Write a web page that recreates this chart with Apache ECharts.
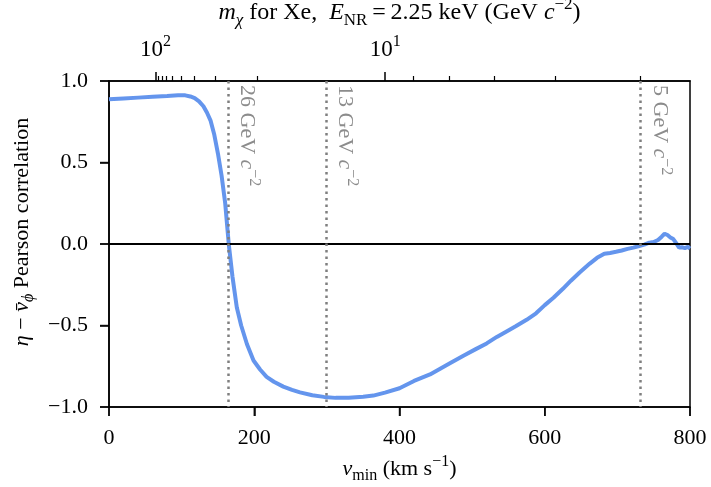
<!DOCTYPE html>
<html><head><meta charset="utf-8">
<script src="https://cdn.jsdelivr.net/npm/echarts@6/dist/echarts.min.js"></script>
<style>html,body{margin:0;padding:0;background:#fff}#c{width:711px;height:487px}</style>
</head><body><div id="c"></div>
<script>
// ---- data ----
const vmin = [0, 20, 40, 60, 80, 95, 105, 112, 118, 124, 130, 135, 140, 145, 150, 155, 160, 165, 170, 176, 182, 190, 199, 208, 217, 227, 240, 252, 263, 280, 296, 312, 330, 350, 364, 380, 400, 420, 442, 456, 470, 488, 505, 520, 534, 548, 560, 575, 588, 600, 612, 625, 636, 648, 662, 672, 682, 690, 698, 706, 714, 722, 730, 737, 744, 750, 756, 761, 765, 769, 773, 777, 781, 785, 789, 793, 797, 800];
const corr = [0.888, 0.893, 0.898, 0.903, 0.908, 0.913, 0.912, 0.905, 0.895, 0.875, 0.845, 0.805, 0.755, 0.67, 0.555, 0.42, 0.25, -0.005, -0.2, -0.39, -0.50, -0.615, -0.715, -0.77, -0.815, -0.845, -0.875, -0.895, -0.91, -0.928, -0.938, -0.944, -0.943, -0.937, -0.93, -0.912, -0.885, -0.84, -0.8, -0.765, -0.73, -0.685, -0.645, -0.61, -0.57, -0.535, -0.505, -0.465, -0.425, -0.375, -0.33, -0.275, -0.225, -0.175, -0.12, -0.085, -0.06, -0.055, -0.048, -0.04, -0.03, -0.022, -0.012, -0.004, 0.008, 0.012, 0.025, 0.045, 0.063, 0.055, 0.04, 0.03, 0.005, -0.022, -0.02, -0.025, -0.018, -0.028];
const xTicks = [0, 200, 400, 600, 800];
const yTicks = [-1.0, -0.5, 0.0, 0.5, 1.0];
const topMajorMass = [100, 10];
const topMajorLabels = ['2', '1'];          // exponents of 10
const topMinorMass = [90, 80, 70, 60, 50, 40, 30, 20, 9, 8, 7, 6, 5];
const markerMass = [26, 13, 5];

// ---- axis transform: WIMP mass (Xe, E_NR = 2.25 keV) -> v_min ----
const M_N = 121.7, K = 28.87;
const massToV = m => K * (1 + M_N / m);

const FONT = '"Liberation Serif", "DejaVu Serif", serif';
function rich(color, FS, SS) {
  FS = FS || 22; SS = SS || 16;
  const lh = Math.round(FS * 1.36), sl = Math.round(SS * 0.95);
  return {
    n: {fontFamily: FONT, fontSize: FS, color: color, lineHeight: lh},
    i: {fontFamily: FONT, fontSize: FS, color: color, fontStyle: 'italic', lineHeight: lh},
    sub: {fontFamily: FONT, fontSize: SS, color: color, verticalAlign: 'bottom', lineHeight: sl},
    subi: {fontFamily: FONT, fontSize: SS, color: color, fontStyle: 'italic', verticalAlign: 'bottom', lineHeight: sl},
    sup: {fontFamily: FONT, fontSize: SS, color: color, verticalAlign: 'top', lineHeight: sl}
  };
}
const fmtY = v => '{n|' + (v < 0 ? '\u2212' : '') + Math.abs(v).toFixed(1) + '}';

const chart = echarts.init(document.getElementById('c'), null, {renderer: 'canvas'});
const majorV = topMajorMass.map(massToV);
const minorV = topMinorMass.map(massToV);
const LINE = {color: '#000', width: 1.5};
const TL = 9;

chart.setOption({
  animation: false,
  backgroundColor: '#fff',
  grid: {left: 109, right: 21, top: 81, bottom: 80, outerBoundsMode: 'none', containLabel: false,
         show: true, borderColor: '#000', borderWidth: 1.5, backgroundColor: 'transparent'},
  xAxis: [
    {
      type: 'value', min: 0, max: 800, position: 'bottom',
      axisLine: {show: true, onZero: false, lineStyle: LINE},
      axisTick: {show: true, length: TL, customValues: xTicks, lineStyle: LINE},
      axisLabel: {margin: 16, customValues: xTicks, formatter: v => '{n|' + v + '}', rich: rich('#000')},
      splitLine: {show: false},
      name: '{i|v}{sub|min}{n| (km s}{sup|\u22121}{n|)}', nameLocation: 'middle', nameGap: 46,
      nameTextStyle: {rich: rich('#000')}
    },
    {
      type: 'value', min: 0, max: 800, position: 'top',
      axisLine: {show: true, onZero: false, lineStyle: LINE},
      axisTick: {show: true, length: TL, customValues: majorV, lineStyle: LINE},
      axisLabel: {show: true, margin: 16, customValues: majorV,
        formatter: v => {
          const idx = majorV.findIndex(m => Math.abs(m - v) < 1e-6);
          return idx < 0 ? '' : '{n|10}{sup|' + topMajorLabels[idx] + '}';
        }, rich: rich('#000', 23, 16)},
      splitLine: {show: false},
      name: '{i|m}{subi|\u03c7}{n| for Xe,\u2002}{i|E}{sub|NR}{n|\u2009=\u20092.25 keV (GeV }{i|c}{sup|\u22122}{n|)}',
      nameLocation: 'middle', nameGap: 42,
      nameTextStyle: {rich: rich('#000', 24, 17)}
    },
    {
      type: 'value', min: 0, max: 800, position: 'top',
      axisLine: {show: false, onZero: false},
      axisTick: {show: true, length: 5, customValues: minorV, lineStyle: {color: '#000', width: 1.2}},
      axisLabel: {show: false},
      splitLine: {show: false}
    }
  ],
  yAxis: {
    type: 'value', min: -1, max: 1, position: 'left',
    axisLine: {show: true, onZero: false, lineStyle: LINE},
    axisTick: {show: true, length: TL, customValues: yTicks, lineStyle: LINE},
    axisLabel: {margin: 21, customValues: yTicks, formatter: fmtY, rich: rich('#000')},
    splitLine: {show: false},
    name: '{i|\u03b7}{n| \u2212 }{i|v\u0304}{subi|\u03d5}{n| Pearson correlation}',
    nameLocation: 'middle', nameGap: 67, nameRotate: 90,
    nameTextStyle: {rich: rich('#000'), padding: [0, 0, 0, 24]}
  },
  series: [
    {
      type: 'line', name: 'markers', data: [], z: 1, silent: true,
      markLine: {
        silent: true, symbol: ['none', 'none'], animation: false,
        data: [
          [{coord: [0, 0], lineStyle: {color: '#000', width: 1.8, type: 'solid'}, label: {show: false}}, {coord: [800, 0]}]
        ].concat(markerMass.map(m => [
          {coord: [massToV(m), 1], name: String(m),
           lineStyle: {color: '#7f7f7f', width: 2.5, type: [2.5, 4]},
           label: {show: true, position: 'insideStartTop', distance: 4,
             formatter: p => '{n|' + p.name + ' GeV }{i|c}{sup|\u22122}', rich: rich('#8c8c8c')}},
          {coord: [massToV(m), -1]}
        ])),
        lineStyle: {color: '#7f7f7f'}
      }
    },
    {
      // outward tick marks on the bottom axis, placed at the tick values
      type: 'scatter', name: 'xticks', silent: true, clip: false, z: 5,
      data: xTicks.map(v => [v, -1]),
      symbol: 'rect', symbolSize: [1.5, TL], symbolOffset: [0, TL / 2],
      itemStyle: {color: '#000'}
    },
    {
      // outward tick marks on the left axis, placed at the tick values
      type: 'scatter', name: 'yticks', silent: true, clip: false, z: 5,
      data: yTicks.map(v => [0, v]),
      symbol: 'rect', symbolSize: [TL, 1.5], symbolOffset: [-TL / 2, 0],
      itemStyle: {color: '#000'}
    },
    {
      type: 'line', name: 'corr', z: 3,
      data: vmin.map((v, i) => [v, corr[i]]),
      showSymbol: false, symbol: 'none',
      lineStyle: {color: '#6495ED', width: 4},
      itemStyle: {color: '#6495ED'}
    }
  ]
});
</script></body></html>
